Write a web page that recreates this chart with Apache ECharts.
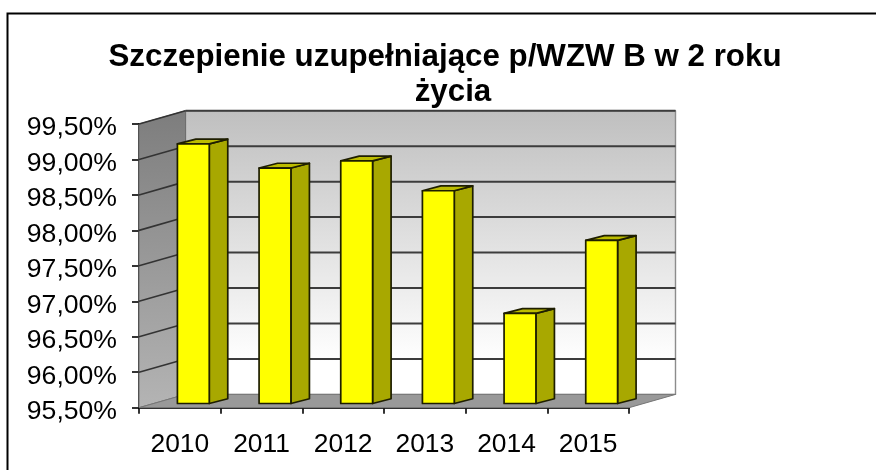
<!DOCTYPE html>
<html>
<head>
<meta charset="utf-8">
<style>html,body{margin:0;padding:0;background:#fff}#c{width:876px;height:470px}</style>
<script src="https://cdn.jsdelivr.net/npm/echarts@6/dist/echarts.min.js"></script>
</head>
<body>
<div id="c"></div>
<script>
var categories = ['2010', '2011', '2012', '2013', '2014', '2015'];
var values = [99.16, 98.82, 98.92, 98.50, 96.77, 97.80];
var gridValues = [95.5, 96, 96.5, 97, 97.5, 98, 98.5, 99, 99.5];
var titleLines = ['Szczepienie uzupełniające p/WZW B w 2 roku', 'życia'];

var FONT = '"Liberation Sans", Arial, sans-serif';
var DX = 46.5, DY = -13.3;            // depth of the chart box
var GX = 13.5, GY = -4.2;             // gap from front plane to bar front
var BX = 18.5, BY = -4.8;             // depth of a bar
var BAR = 0.39;

var chart = echarts.init(document.getElementById('c'), null, {renderer: 'canvas'});

function poly(pts, fill, stroke, lw) {
  return {type: 'polygon', shape: {points: pts},
    style: {fill: fill, stroke: stroke || null, lineWidth: lw || 0, lineJoin: 'round'}};
}
function grad(stops) {
  return new echarts.graphic.LinearGradient(0, 0, 0, 1, stops);
}

function renderWalls(params) {
  var c = params.coordSys;
  var l = c.x, r = c.x + c.width, t = c.y, b = c.y + c.height;
  return {type: 'group', children: [
    poly([[l + DX, t + DY], [r + DX, t + DY], [r + DX, b + DY], [l + DX, b + DY]],
      grad([{offset: 0, color: '#bfbfbf'}, {offset: 0.88, color: '#ffffff'}, {offset: 1, color: '#ffffff'}]), '#8c8c8c', 1.4),
    poly([[l, t], [l + DX, t + DY], [l + DX, b + DY], [l, b]],
      grad([{offset: 0, color: '#7d7d7d'}, {offset: 1, color: '#b4b4b4'}]), '#6e6e6e', 1),
    poly([[l, b], [l + DX, b + DY], [r + DX, b + DY], [r, b]], '#999999', '#777777', 1)
  ]};
}

function renderGrid(params, api) {
  var c = params.coordSys;
  var y = api.coord([0, api.value(0)])[1];
  var l = c.x, r = c.x + c.width;
  return {type: 'group', children: [
    {type: 'line', shape: {x1: l, y1: y, x2: l + DX, y2: y + DY},
      style: {stroke: '#333333', lineWidth: 1.6}},
    {type: 'line', shape: {x1: l + DX, y1: y + DY, x2: r + DX, y2: y + DY},
      style: {stroke: '#3c3c3c', lineWidth: 2}}
  ]};
}

function renderBar(params, api) {
  var p = api.coord([api.value(0), api.value(1)]);
  var base = api.coord([api.value(0), gridValues[0]]);
  var w = api.size([1, 0])[0] * BAR;
  var x0 = p[0] - w / 2 + GX, x1 = x0 + w;
  var yt = p[1] + GY, yb = base[1] + GY;
  var s = '#1e1e00';
  return {type: 'group', children: [
    poly([[x1, yt], [x1 + BX, yt + BY], [x1 + BX, yb + BY], [x1, yb]], '#a8a800', s, 1.7),
    poly([[x0, yt], [x0 + BX, yt + BY], [x1 + BX, yt + BY], [x1, yt]], '#bcbc00', s, 1.7),
    poly([[x0, yt], [x1, yt], [x1, yb], [x0, yb]], '#ffff00', s, 1.7)
  ]};
}

chart.setOption({
  animation: false,
  backgroundColor: '#ffffff',
  title: [
    {text: titleLines[0], left: 440, top: 37, textAlign: 'center',
      textStyle: {fontFamily: FONT, fontSize: 31.3, fontWeight: 'bold', color: '#000'}},
    {text: titleLines[1], left: 448, top: 72, textAlign: 'center',
      textStyle: {fontFamily: FONT, fontSize: 31.3, fontWeight: 'bold', color: '#000'}}
  ],
  graphic: [
    {type: 'polyline', shape: {points: [[7.5, 470], [7.5, 13.5], [876, 13.5]]},
      style: {stroke: '#000', lineWidth: 2, fill: null}, silent: true}
  ],
  grid: {left: 139, top: 124, width: 490, height: 283.7},
  xAxis: {
    type: 'category', data: categories,
    axisLine: {show: true, lineStyle: {color: '#222', width: 1.8}},
    axisTick: {show: true, alignWithLabel: false, length: 6, lineStyle: {color: '#000', width: 1.6}},
    axisLabel: {fontFamily: FONT, fontSize: 26.4, color: '#000', margin: 24},
    splitLine: {show: false}
  },
  yAxis: {
    type: 'value', min: 95.5, max: 99.5, interval: 0.5,
    axisLine: {show: true, lineStyle: {color: '#222', width: 1.8}},
    axisTick: {show: true, length: 7, lineStyle: {color: '#000', width: 1.6}},
    axisLabel: {fontFamily: FONT, fontSize: 26.6, color: '#000', margin: 22, verticalAlign: 'top', lineHeight: 8,
      formatter: function (v) { return v.toFixed(2).replace('.', ',') + '%'; }},
    splitLine: {show: false}
  },
  series: [
    {type: 'custom', coordinateSystem: 'cartesian2d', data: [[0]], renderItem: renderWalls, silent: true, z: 1, clip: false},
    {type: 'custom', coordinateSystem: 'cartesian2d', data: gridValues.slice(1).map(function (v) { return [v]; }),
      encode: {y: 0}, renderItem: renderGrid, silent: true, z: 2, clip: false},
    {type: 'custom', coordinateSystem: 'cartesian2d',
      data: values.map(function (v, i) { return [i, v]; }),
      encode: {x: 0, y: 1}, renderItem: renderBar, z: 3, clip: false}
  ]
});
</script>
</body>
</html>
